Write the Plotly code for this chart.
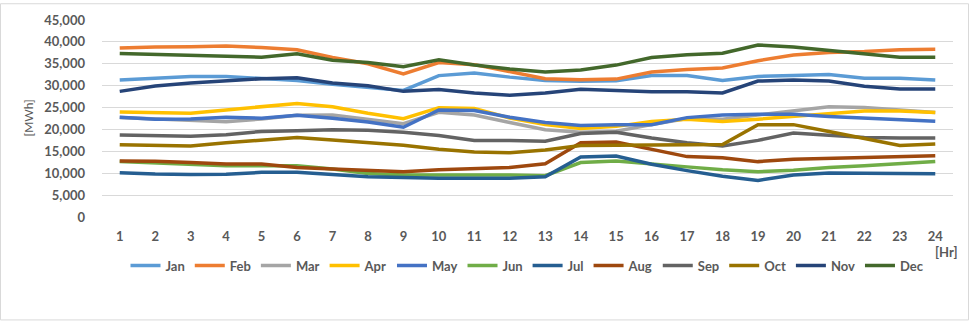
import plotly.graph_objects as go

# Hourly electricity demand profile by month
hours = list(range(1, 25))
hour_labels = [str(h) for h in hours]

jan = [31300, 31700, 32100, 32100, 31600, 31200, 30300, 29700, 28900, 32300, 32900, 31950,
       31200, 31000, 31100, 32300, 32300, 31200, 32100, 32300, 32550, 31700, 31700, 31300]
feb = [38600, 38850, 38900, 39050, 38700, 38200, 36450, 35000, 32700, 35300, 34800, 33100,
       31600, 31350, 31500, 33100, 33700, 34050, 35700, 37000, 37600, 37800, 38200, 38300]
mar = [22700, 22350, 22050, 21750, 22400, 23250, 23300, 22200, 21300, 23900, 23300, 21600,
       19950, 19350, 19600, 21100, 22500, 22350, 23300, 24450, 25200, 25000, 24450, 23850]
apr = [24000, 23850, 23700, 24450, 25200, 25950, 25200, 23700, 22450, 24980, 24800, 22600,
       21100, 20200, 20700, 21800, 22350, 21800, 22350, 22950, 23700, 24200, 24200, 23850]
may = [22800, 22350, 22400, 22800, 22550, 23250, 22550, 21700, 20500, 24450, 24300, 22800,
       21600, 20900, 21100, 21100, 22700, 23300, 23450, 23450, 22950, 22550, 22100, 21900]
jun = [12650, 12300, 12100, 11700, 11700, 11700, 10950, 9950, 9600, 9600, 9650, 9600,
       9450, 12450, 12800, 12050, 11450, 10800, 10350, 10700, 11300, 11700, 12200, 12650]
jul = [10100, 9800, 9700, 9750, 10200, 10200, 9700, 9200, 9050, 8850, 8850, 8850,
       9200, 13700, 13950, 12050, 10600, 9300, 8350, 9600, 10050, 9950, 9900, 9900]
aug = [12800, 12750, 12450, 12100, 12100, 11300, 10950, 10600, 10350, 10800, 10950, 11300,
       12150, 16950, 17150, 15450, 13800, 13550, 12650, 13200, 13400, 13700, 13950, 14000]
sep = [18750, 18700, 18450, 18800, 19550, 19700, 19950, 19800, 19350, 18600, 17500, 17500,
       17300, 19050, 19350, 18050, 16950, 16200, 17500, 19200, 18600, 18150, 18050, 18050]
oct_ = [16500, 16450, 16200, 16950, 17500, 18150, 17600, 17100, 16400, 15450, 14850, 14700,
        15300, 16350, 16350, 16550, 16550, 16550, 21100, 21100, 19550, 17850, 16350, 16650]
nov = [28700, 29900, 30600, 31100, 31600, 31800, 30600, 30000, 28700, 29100, 28300, 27800,
       28350, 29200, 28900, 28600, 28600, 28350, 31050, 31300, 31050, 29850, 29250, 29250]
dec = [37350, 37100, 36900, 36700, 36500, 37300, 35800, 35300, 34350, 35900, 34700, 33800,
       33150, 33600, 34700, 36450, 37050, 37400, 39300, 38850, 38100, 37200, 36500, 36500]

month_names = ["Jan", "Feb", "Mar", "Apr", "May", "Jun",
               "Jul", "Aug", "Sep", "Oct", "Nov", "Dec"]
month_series = [jan, feb, mar, apr, may, jun, jul, aug, sep, oct_, nov, dec]
month_colors = ["#5B9BD5", "#ED7D31", "#A5A5A5", "#FFC000", "#4472C4", "#70AD47",
                "#255E91", "#9E480E", "#636363", "#997300", "#264478", "#43682B"]

y_ticks = list(range(0, 45001, 5000))

FONT = "Lato"
TXT = "#595959"

fig = go.Figure()
for name, vals, col in zip(month_names, month_series, month_colors):
    fig.add_trace(go.Scatter(
        x=hour_labels, y=vals, name=name, mode="lines",
        line=dict(color=col, width=3.5),
    ))

W, H = 969, 322
ml, mr, mt, mb = 102, 16, 17, 105
pw, ph = W - ml - mr, H - mt - mb

fig.update_layout(
    width=W, height=H,
    margin=dict(l=ml, r=mr, t=mt, b=mb, pad=0),
    paper_bgcolor="white", plot_bgcolor="white",
    font=dict(family=FONT, size=13, color=TXT),
    showlegend=True,
    legend=dict(
        orientation="h", x=0.5, xanchor="center", y=-0.17, yanchor="top",
        font=dict(family=FONT, size=13, color=TXT, weight="bold"),
        traceorder="normal", itemwidth=30, tracegroupgap=0,
    ),
    xaxis=dict(
        type="category", range=[-0.5, 23.5],
        showgrid=False, zeroline=False, showline=False,
        ticks="", ticklabelstandoff=10,
        tickfont=dict(family=FONT, size=13, color=TXT, weight="bold"),
    ),
    yaxis=dict(
        range=[0, 45000], tickvals=y_ticks, tickformat=",",
        showgrid=True, gridcolor="#D9D9D9", gridwidth=1,
        zeroline=False, showline=False, ticks="", ticklabelstandoff=16,
        tickfont=dict(family=FONT, size=13, color=TXT, weight="bold"),
    ),
    annotations=[
        dict(text="[MWh]", xref="paper", yref="paper",
             x=(28 - ml) / pw, y=0.5, xanchor="center", yanchor="middle",
             textangle=-90, showarrow=False,
             font=dict(family=FONT, size=12, color=TXT)),
        dict(text="[Hr]", xref="paper", yref="paper",
             x=(946 - ml) / pw, y=(mt + ph - 253) / ph, xanchor="center", yanchor="middle",
             showarrow=False,
             font=dict(family=FONT, size=13, color=TXT, weight="bold")),
    ],
    shapes=[
        dict(type="rect", xref="paper", yref="paper", layer="below",
             x0=(0.5 - ml) / pw, x1=(W - 0.5 - ml) / pw,
             y0=(mt + ph - (H - 0.5)) / ph, y1=(mt + ph - 0.5) / ph,
             line=dict(color="#D9D9D9", width=1), fillcolor="rgba(0,0,0,0)"),
    ],
)

fig.write_html("out.html")
